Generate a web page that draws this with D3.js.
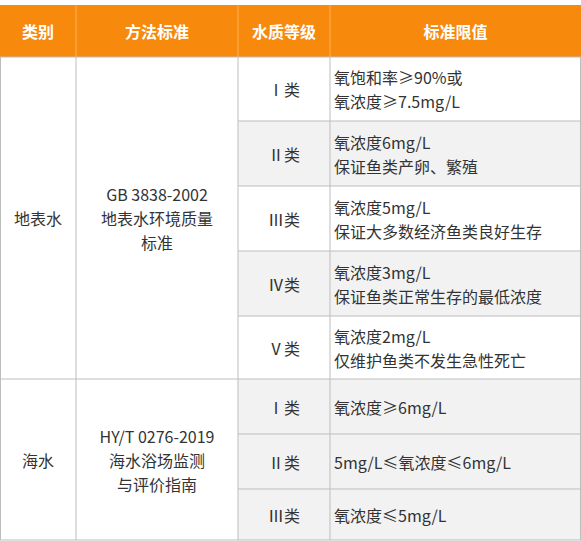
<!DOCTYPE html>
<html><head><meta charset="utf-8">
<script src="https://d3js.org/d3.v7.min.js"></script>
<style>body{margin:0;background:#fff}svg{display:block}text{font-family:"Noto Sans CJK SC","Noto Sans",sans-serif}</style>
</head><body><svg id="t"></svg>
<script>
const headers = ["类别", "方法标准", "水质等级", "标准限值"];
const categories = ["地表水", "海水"];
const standards = [["GB 3838-2002", "地表水环境质量", "标准"], ["HY/T 0276-2019", "海水浴场监测", "与评价指南"]];
const grades = ["Ⅰ类", "Ⅱ类", "Ⅲ类", "Ⅳ类", "Ⅴ类", "Ⅰ类", "Ⅱ类", "Ⅲ类"];
const groupOf = [0, 0, 0, 0, 0, 1, 1, 1];
const limits = [
  ["氧饱和率≥90%或", "氧浓度≥7.5mg/L"],
  ["氧浓度6mg/L", "保证鱼类产卵、繁殖"],
  ["氧浓度5mg/L", "保证大多数经济鱼类良好生存"],
  ["氧浓度3mg/L", "保证鱼类正常生存的最低浓度"],
  ["氧浓度2mg/L", "仅维护鱼类不发生急性死亡"],
  ["氧浓度≥6mg/L"],
  ["5mg/L≤氧浓度≤6mg/L"],
  ["氧浓度≤5mg/L"]
];
const shaded = [false, true, false, true, false, true, true, true];
const rowHeights = [64, 65, 65, 65, 63, 55, 55, 51];

const W = 581, H = 541, tableTop = 5, headH = 52;
const colEdges = [0, 76, 238, 330, 581];
const svg = d3.select("#t").attr("width", W).attr("height", H);
const ys = [tableTop + headH];
rowHeights.forEach(h => ys.push(ys[ys.length - 1] + h));

// header
svg.append("rect").attr("x", 0).attr("y", tableTop).attr("width", W).attr("height", headH).attr("fill", "#F7890C");
headers.forEach((h, i) => {
  svg.append("text").attr("x", (colEdges[i] + colEdges[i + 1]) / 2).attr("y", tableTop + headH / 2)
    .attr("text-anchor", "middle").attr("dominant-baseline", "central")
    .attr("fill", "#fff").attr("font-size", 16).attr("font-weight", "bold").text(h);
});
colEdges.slice(1, -1).forEach(x => svg.append("line").attr("x1", x).attr("x2", x)
  .attr("y1", tableTop).attr("y2", tableTop + headH).attr("stroke", "#FFB255"));

// row shading
grades.forEach((g, i) => {
  if (shaded[i]) svg.append("rect").attr("x", colEdges[2]).attr("y", ys[i]).attr("width", W - colEdges[2])
    .attr("height", rowHeights[i]).attr("fill", "#F2F2F2");
});

function lines(x, cy, arr, anchor) {
  const lh = 24, y0 = cy - (arr.length - 1) * lh / 2;
  arr.forEach((s, k) => svg.append("text").attr("x", x).attr("y", y0 + k * lh)
    .attr("text-anchor", anchor).attr("dominant-baseline", "central")
    .attr("fill", "#333").attr("font-size", 16).text(s));
}

grades.forEach((g, i) => {
  const cy = (ys[i] + ys[i + 1]) / 2;
  lines((colEdges[2] + colEdges[3]) / 2, cy, [g], "middle");
  lines(colEdges[3] + 4, cy, limits[i], "start");
});

categories.forEach((c, gi) => {
  const idx = groupOf.map((g, i) => g === gi ? i : -1).filter(i => i >= 0);
  const y1 = ys[idx[0]], y2 = ys[idx[idx.length - 1] + 1], cy = (y1 + y2) / 2;
  lines((colEdges[0] + colEdges[1]) / 2, cy, [c], "middle");
  lines((colEdges[1] + colEdges[2]) / 2, cy, standards[gi], "middle");
});

// grid lines
const stroke = "#BDBDBD";
ys.forEach((y, i) => {
  const isGroup = i === 0 || i === ys.length - 1 || i === 5;
  svg.append("line").attr("x1", isGroup ? 0 : colEdges[2]).attr("x2", W).attr("y1", y).attr("y2", y)
    .attr("stroke", stroke);
});
colEdges.forEach(x => {
  const xx = Math.min(Math.max(x, 0.5), W - 0.5);
  svg.append("line").attr("x1", xx).attr("x2", xx)
    .attr("y1", tableTop + headH).attr("y2", ys[ys.length - 1]).attr("stroke", stroke);
});
</script></body></html>
